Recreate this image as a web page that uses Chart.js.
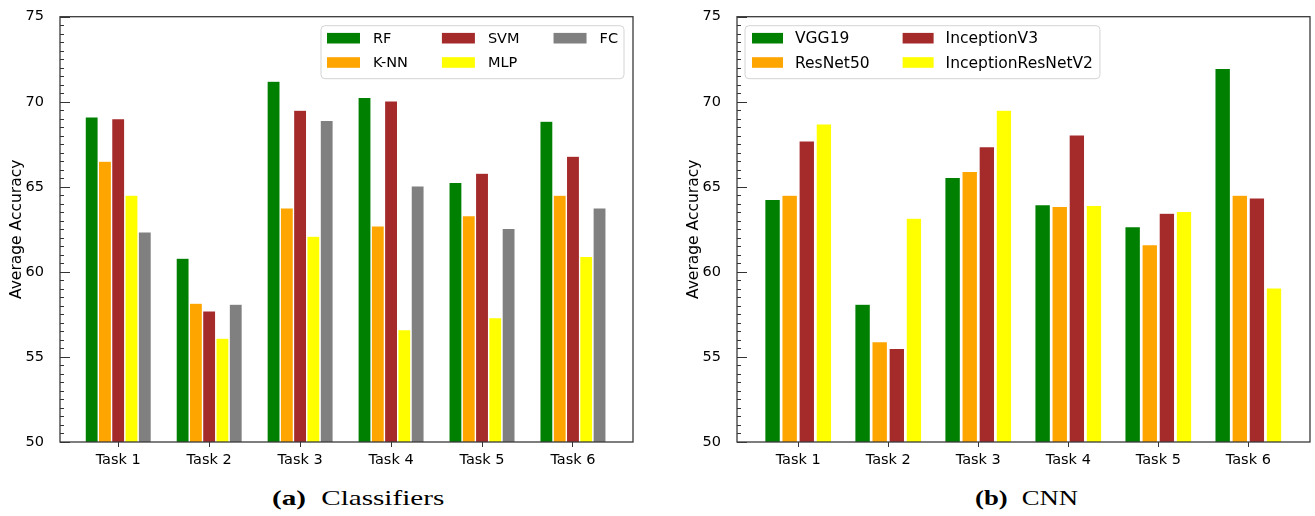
<!DOCTYPE html>
<html>
<head>
<meta charset="utf-8">
<script src="https://cdn.jsdelivr.net/npm/chart.js@4.4.1/dist/chart.umd.min.js"></script>
<style>
  body { margin: 0; background: #fff; width: 1315px; height: 516px; overflow: hidden; position: relative; }
  canvas { position: absolute; top: 0; }
  #chartA { left: 0; }
  #chartB { left: 677px; }
  .caption { position: absolute; top: 486px; font-family: "Liberation Serif", serif; font-size: 21px; color: #000; white-space: nowrap; transform-origin: left top; }
  .caption b { margin-right: 11px; }
</style>
</head>
<body>
<canvas id="chartA" width="638" height="470"></canvas>
<canvas id="chartB" width="638" height="470"></canvas>
<div class="caption" id="capA" style="left:272px"><b>(a)</b>Classifiers</div>
<div class="caption" id="capB" style="left:975px"><b>(b)</b>CNN</div>
<script>
const taskLabels = ['Task 1', 'Task 2', 'Task 3', 'Task 4', 'Task 5', 'Task 6'];

// (a) classifiers
const classifierNames = ['RF', 'K-NN', 'SVM', 'MLP', 'FC'];
const rfAcc  = [69.1, 60.8, 71.2, 70.25, 65.25, 68.85];
const knnAcc = [66.5, 58.15, 63.75, 62.7, 63.3, 64.5];
const svmAcc = [69.0, 57.7, 69.5, 70.05, 65.8, 66.8];
const mlpAcc = [64.5, 56.1, 62.1, 56.6, 57.3, 60.9];
const fcAcc  = [62.35, 58.1, 68.9, 65.05, 62.55, 63.75];

// (b) CNN
const cnnNames = ['VGG19', 'ResNet50', 'InceptionV3', 'InceptionResNetV2'];
const vgg19Acc     = [64.25, 58.1, 65.55, 63.95, 62.65, 71.95];
const resnet50Acc  = [64.5, 55.9, 65.9, 63.85, 61.6, 64.5];
const inceptionAcc = [67.7, 55.5, 67.35, 68.05, 63.45, 64.35];
const incResNetAcc = [68.7, 63.15, 69.5, 63.9, 63.55, 59.05];

const COLORS = ['#008000', '#FFA500', '#A52A2A', '#FFFF00', '#808080'];

Chart.defaults.font.family = '"DejaVu Sans", sans-serif';
Chart.defaults.color = '#000';

// frame around the plot + inward y ticks (major every 5, minor every 0.5)
const frameTicks = {
  id: 'frameTicks',
  afterDraw(chart) {
    const { ctx, chartArea: a, scales: { y } } = chart;
    ctx.save();
    ctx.strokeStyle = '#333';
    ctx.lineWidth = 1;
    for (let k = 0; k <= (y.max - y.min) * 2; k++) {
      const v = y.min + k * 0.5;
      const py = Math.round(y.getPixelForValue(v)) + 0.5;
      const len = k % 10 === 0 ? 10 : 4;
      ctx.beginPath();
      ctx.moveTo(a.left, py);
      ctx.lineTo(a.left + len, py);
      ctx.stroke();
    }
    ctx.strokeStyle = '#3a3a3a';
    ctx.lineWidth = 1.3;
    ctx.strokeRect(a.left, a.top, a.right - a.left, a.bottom - a.top);
    ctx.restore();
  }
};

// matplotlib-like legend: 2 rows, filled column by column
const boxLegend = {
  id: 'boxLegend',
  afterDatasetsDraw(chart, args, opts) {
    const { ctx, chartArea: a } = chart;
    const sets = chart.data.datasets;
    const rows = 2;
    const cols = Math.ceil(sets.length / rows);
    ctx.save();
    ctx.font = opts.size + 'px "DejaVu Sans"';
    const colW = [];
    for (let c = 0; c < cols; c++) {
      let w = 0;
      for (let r = 0; r < rows; r++) {
        const d = sets[c * rows + r];
        if (d) w = Math.max(w, ctx.measureText(d.label).width);
      }
      colW.push(opts.handle + opts.gap + w);
    }
    const width = opts.pad * 2 + colW.reduce((s, w) => s + w, 0) + opts.colSpace * (cols - 1);
    const height = 53;
    const x0 = opts.align === 'right' ? a.right - opts.margin - width : a.left + opts.margin;
    const y0 = a.top + 9;

    ctx.beginPath();
    ctx.roundRect(x0, y0, width, height, 4);
    ctx.fillStyle = 'rgba(255,255,255,0.8)';
    ctx.fill();
    ctx.strokeStyle = '#d4d4d4';
    ctx.lineWidth = 1;
    ctx.stroke();

    ctx.textBaseline = 'middle';
    let cx = x0 + opts.pad;
    for (let c = 0; c < cols; c++) {
      for (let r = 0; r < rows; r++) {
        const d = sets[c * rows + r];
        if (!d) continue;
        const cy = y0 + 12.5 + r * 24.3;
        ctx.fillStyle = d.backgroundColor;
        ctx.fillRect(cx, cy - 5.3, opts.handle, 10.6);
        ctx.fillStyle = '#000';
        ctx.fillText(d.label, cx + opts.handle + opts.gap, cy + 1);
      }
      cx += colW[c] + opts.colSpace;
    }
    ctx.restore();
  }
};

function makeChart(id, names, series, bar, legend) {
  const datasets = names.map((name, i) => ({
    label: name,
    data: series[i].map((v, j) => ({ x: j + 1, y: v })),
    backgroundColor: COLORS[i],
    borderColor: 'rgba(255,255,255,0.35)',
    borderWidth: 0.5,
    categoryPercentage: bar.cat,
    barPercentage: bar.bar
  }));

  return new Chart(document.getElementById(id), {
    type: 'bar',
    data: { datasets: datasets },
    plugins: [frameTicks, boxLegend],
    options: {
      responsive: false,
      animation: false,
      layout: { padding: { left: 0, right: 5, top: 15, bottom: 0 } },
      scales: {
        x: {
          type: 'linear',
          min: bar.xmin,
          max: bar.xmax,
          offset: false,
          afterBuildTicks: s => { s.ticks = taskLabels.map((_, i) => ({ value: i + 1 })); },
          afterFit: s => { s.height = 28; },
          ticks: { callback: v => taskLabels[v - 1], font: { size: 14.5 }, padding: 5, autoSkip: false, maxRotation: 0 },
          grid: { offset: false, drawOnChartArea: false, drawTicks: true, tickLength: 5, color: '#333' },
          border: { display: false }
        },
        y: {
          min: 50,
          max: 75,
          afterFit: s => { s.width = 60; },
          ticks: { stepSize: 5, font: { size: 14.5 }, padding: 8 },
          grid: { display: false },
          border: { display: false },
          title: { display: true, text: 'Average Accuracy', font: { size: 15.5 }, padding: { top: 8, bottom: 0 } }
        }
      },
      plugins: {
        legend: { display: false },
        tooltip: { enabled: false },
        boxLegend: legend
      }
    }
  });
}

makeChart('chartA', classifierNames, [rfAcc, knnAcc, svmAcc, mlpAcc, fcAcc],
  { cat: 0.73, bar: 0.97, xmin: 0.36, xmax: 6.66 },
  { align: 'right', margin: 9, size: 14.5, handle: 33, gap: 13, colSpace: 34, pad: 6 });

makeChart('chartB', cnnNames, [vgg19Acc, resnet50Acc, inceptionAcc, incResNetAcc],
  { cat: 0.76, bar: 0.9, xmin: 0.32, xmax: 6.685 },
  { align: 'left', margin: 8, size: 15.5, handle: 31, gap: 12, colSpace: 33, pad: 7 });

// stretch captions to the widths seen in the figure
[['capA', 172], ['capB', 103]].forEach(([id, target]) => {
  const el = document.getElementById(id);
  el.style.transform = 'scaleX(' + (target / el.offsetWidth) + ')';
});
</script>
</body>
</html>
